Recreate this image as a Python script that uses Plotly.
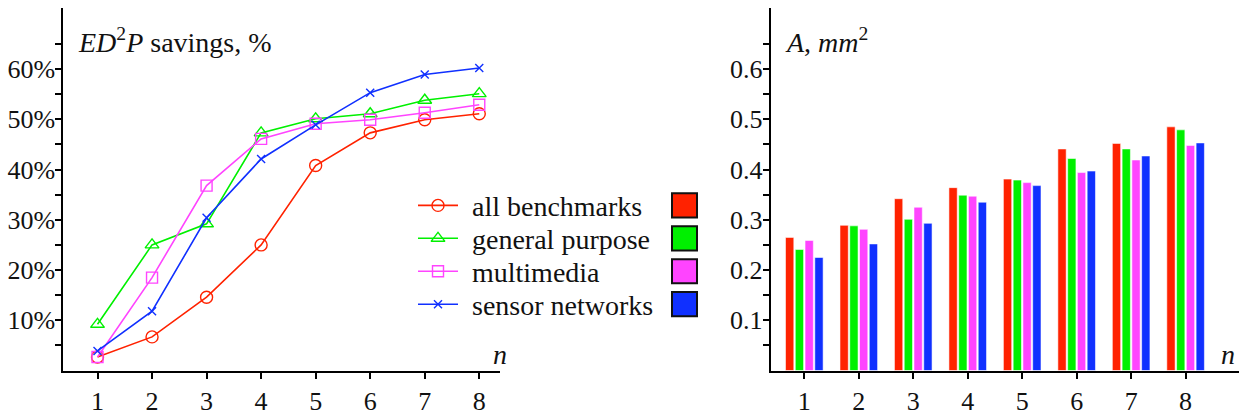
import plotly.graph_objects as go

# ---------------- data ----------------
n_values = [1, 2, 3, 4, 5, 6, 7, 8]
series_names = ["all benchmarks", "general purpose", "multimedia", "sensor networks"]
series_colors = ["#ff2200", "#00f000", "#ff44ff", "#1030ff"]
series_symbols = ["circle-open", "triangle-up-open", "square-open", "x-thin-open"]
series_sizes = [12, 12, 11, 8]

ed2p_all = [2.7, 6.7, 14.6, 25.0, 40.8, 47.3, 49.9, 51.1]
ed2p_general = [9.2, 25.0, 29.2, 47.3, 50.1, 51.1, 53.8, 55.1]
ed2p_multimedia = [2.7, 18.5, 36.8, 46.1, 49.1, 49.9, 51.3, 52.9]
ed2p_sensor = [3.9, 11.8, 30.4, 42.1, 48.9, 55.3, 58.9, 60.2]

area_all = [0.265, 0.289, 0.342, 0.364, 0.381, 0.441, 0.452, 0.485]
area_general = [0.241, 0.288, 0.301, 0.349, 0.379, 0.422, 0.441, 0.479]
area_multimedia = [0.259, 0.281, 0.325, 0.347, 0.374, 0.394, 0.419, 0.448]
area_sensor = [0.225, 0.252, 0.293, 0.335, 0.368, 0.397, 0.427, 0.453]

ed2p_series = [ed2p_all, ed2p_general, ed2p_multimedia, ed2p_sensor]
area_series = [area_all, area_general, area_multimedia, area_sensor]

pct_ticks = [10, 20, 30, 40, 50, 60]
pct_tick_text = ["10%", "20%", "30%", "40%", "50%", "60%"]
pct_minor = [5, 15, 25, 35, 45, 55, 65]
area_ticks = [0.1, 0.2, 0.3, 0.4, 0.5, 0.6]
area_tick_text = ["0.1", "0.2", "0.3", "0.4", "0.5", "0.6"]
area_minor = [0.05, 0.15, 0.25, 0.35, 0.45, 0.55, 0.65]
n_tick_text = ["1", "2", "3", "4", "5", "6", "7", "8"]

# ---------------- layout helpers ----------------
W, H = 1239, 416
FONT = "Liberation Serif"
TEXT_SIZE = 28
TICK_SIZE = 26


def px(x):
    return x / W


def py(y):
    return 1 - y / H


fig = go.Figure()

# line chart (left)
for name, vals, col, sym, sz in zip(series_names, ed2p_series, series_colors,
                                    series_symbols, series_sizes):
    fig.add_trace(go.Scatter(
        x=n_values, y=vals, name=name, mode="lines+markers",
        line=dict(color=col, width=1.6),
        marker=dict(symbol=sym, size=sz, color=col,
                    line=dict(color=col, width=1.4)),
        xaxis="x", yaxis="y", showlegend=False, cliponaxis=False))

# bar chart (right)
for name, vals, col in zip(series_names, area_series, series_colors):
    fig.add_trace(go.Bar(
        x=n_values, y=vals, name=name, marker=dict(
            color=col, line=dict(color="rgba(255,255,255,0.55)", width=1)),
        xaxis="x2", yaxis="y2", showlegend=False))

# hand-made legend (lines + markers on an overlay pixel axis)
legend_rows = [212, 246, 280, 314]
for name, col, sym, sz, ry in zip(series_names, series_colors, series_symbols,
                                  series_sizes, legend_rows):
    fig.add_trace(go.Scatter(
        x=[418, 458], y=[ry, ry], mode="lines",
        line=dict(color=col, width=1.6),
        xaxis="x3", yaxis="y3", showlegend=False, hoverinfo="skip",
        cliponaxis=False))
    fig.add_trace(go.Scatter(
        x=[438], y=[ry], mode="markers",
        marker=dict(symbol=sym, size=sz, color=col,
                    line=dict(color=col, width=1.4)),
        xaxis="x3", yaxis="y3", showlegend=False, hoverinfo="skip",
        cliponaxis=False))

shapes = []
annotations = []
for name, col, ry in zip(series_names, series_colors, legend_rows):
    annotations.append(dict(
        x=px(470), y=py(ry + 1), xref="paper", yref="paper", text=name,
        showarrow=False, xanchor="left", yanchor="middle",
        font=dict(family=FONT, size=TEXT_SIZE, color="#111")))
    shapes.append(dict(
        type="rect", xref="paper", yref="paper",
        x0=px(672), x1=px(697), y0=py(ry - 12.5), y1=py(ry + 12.5),
        fillcolor=col, line=dict(color="#111", width=2)))

annotations += [
    dict(x=px(76), y=py(42), xref="paper", yref="paper",
         text="<i>ED</i><sup>2</sup><i>P</i> savings, %", showarrow=False,
         xanchor="left", yanchor="middle",
         font=dict(family=FONT, size=TEXT_SIZE, color="#111")),
    dict(x=px(783), y=py(42), xref="paper", yref="paper",
         text="<i>A</i>, <i>mm</i><sup>2</sup>", showarrow=False,
         xanchor="left", yanchor="middle",
         font=dict(family=FONT, size=TEXT_SIZE, color="#111")),
    dict(x=px(500), y=py(366), xref="paper", yref="paper",
         text="<i>n</i>", showarrow=False, xanchor="center", yanchor="middle",
         font=dict(family=FONT, size=TEXT_SIZE, color="#111")),
    dict(x=px(1228), y=py(366), xref="paper", yref="paper",
         text="<i>n</i>", showarrow=False, xanchor="center", yanchor="middle",
         font=dict(family=FONT, size=TEXT_SIZE, color="#111")),
]

tick_font = dict(family=FONT, size=TICK_SIZE, color="#111")
xaxis_common = dict(showline=True, linecolor="black", linewidth=2,
                    ticks="outside", ticklen=6, tickwidth=1.8,
                    tickcolor="black", showgrid=False, zeroline=False,
                    tickfont=tick_font, tickmode="array", tickvals=n_values,
                    ticktext=n_tick_text, fixedrange=True)
yaxis_common = dict(showline=True, linecolor="black", linewidth=2,
                    ticks="outside", ticklen=6, tickwidth=1.8,
                    tickcolor="black", showgrid=False, zeroline=False,
                    tickfont=tick_font, tickmode="array", fixedrange=True,
                    ticklabelstandoff=-5)

fig.update_layout(
    width=W, height=H,
    margin=dict(l=0, r=0, t=0, b=0),
    paper_bgcolor="white", plot_bgcolor="rgba(0,0,0,0)",
    font=dict(family=FONT, color="#111"),
    barmode="group", bargap=0.283, bargroupgap=0.15,
    xaxis=dict(xaxis_common, domain=[px(63.3), px(500)], range=[0.373, 8.38],
               anchor="y"),
    yaxis=dict(yaxis_common, domain=[py(382.5), py(8.3)], range=[0, 72.14],
               tickvals=pct_ticks, ticktext=pct_tick_text, anchor="x",
               minor=dict(tickvals=pct_minor, ticks="outside", ticklen=6,
                          tickwidth=1.8, tickcolor="black", showgrid=False)),
    xaxis2=dict(xaxis_common, domain=[px(770.7), 1], range=[0.383, 8.98],
                anchor="y2"),
    yaxis2=dict(yaxis_common, domain=[py(382.5), py(8.3)], range=[0, 0.7214],
                tickvals=area_ticks, ticktext=area_tick_text, anchor="x2",
                minor=dict(tickvals=area_minor, ticks="outside", ticklen=6,
                           tickwidth=1.8, tickcolor="black", showgrid=False)),
    xaxis3=dict(domain=[0, 1], range=[0, W], visible=False, anchor="y3",
                fixedrange=True),
    yaxis3=dict(domain=[0, 1], range=[H, 0], visible=False, anchor="x3",
                fixedrange=True),
    shapes=shapes, annotations=annotations,
)

fig.write_html("out.html")
